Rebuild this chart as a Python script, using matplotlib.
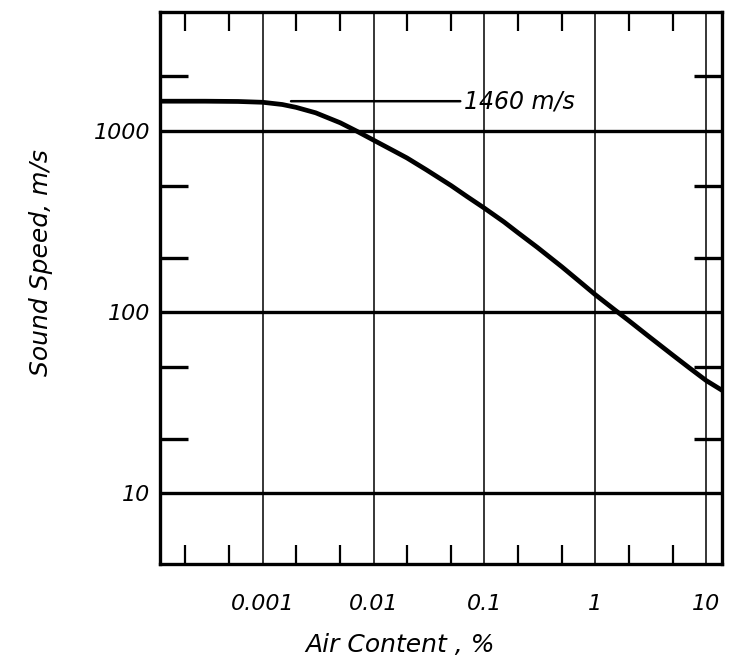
import matplotlib
matplotlib.use("Agg")
import matplotlib.pyplot as plt
from matplotlib.ticker import FixedLocator, NullFormatter

# air content (%) and sound speed (m/s)
air_pct = [1.2e-4, 3e-4, 6e-4, 0.001, 0.0015, 0.002, 0.003, 0.005, 0.007,
           0.01, 0.015, 0.02, 0.03, 0.05, 0.07, 0.1, 0.15, 0.2, 0.3, 0.5,
           0.7, 1, 1.5, 2, 3, 5, 7, 10, 14]
speed = [1460, 1460, 1455, 1440, 1400, 1350, 1260, 1110, 1000,
         890, 780, 710, 610, 500, 434, 375, 315, 275, 228, 178,
         150, 125, 103, 90, 74, 58, 49.5, 42, 37]

x_major = [0.001, 0.01, 0.1, 1, 10]
x_labels = ["0.001", "0.01", "0.1", "1", "10"]
x_minor = [2e-4, 5e-4, 2e-3, 5e-3, 2e-2, 5e-2, 0.2, 0.5, 2, 5]
y_major = [10, 100, 1000]
y_labels = ["10", "100", "1000"]
y_minor = [20, 50, 200, 500, 2000]

font = {"family": "DejaVu Sans", "style": "italic"}

fig = plt.figure(figsize=(7.3, 6.71), dpi=100)
ax = fig.add_axes([0.219, 0.16, 0.770, 0.822])
ax.set_xscale("log")
ax.set_yscale("log")
ax.set_xlim(1.18e-4, 13.9)
ax.set_ylim(4.1, 4530)

for v in x_major:
    ax.axvline(v, color="black", lw=1.1, zorder=1)
for v in y_major:
    ax.axhline(v, color="black", lw=2.4, zorder=1)

ax.plot(air_pct, speed, color="black", lw=3.4, solid_capstyle="round",
        solid_joinstyle="round", zorder=3)

ax.annotate("1460 m/s", xy=(0.0018, 1460), xytext=(0.066, 1460),
            fontsize=17, va="center", ha="left",
            arrowprops={"arrowstyle": "-", "color": "black", "lw": 1.8,
                        "shrinkA": 1, "shrinkB": 0}, **font)

for side in ax.spines.values():
    side.set_linewidth(2.4)

ax.xaxis.set_major_locator(FixedLocator(x_major))
ax.xaxis.set_minor_locator(FixedLocator(x_minor))
ax.xaxis.set_minor_formatter(NullFormatter())
ax.set_xticklabels(x_labels)
ax.yaxis.set_major_locator(FixedLocator(y_major))
ax.yaxis.set_minor_locator(FixedLocator(y_minor))
ax.yaxis.set_minor_formatter(NullFormatter())
ax.set_yticklabels(y_labels)

ax.tick_params(axis="x", which="major", length=0, pad=22, labelsize=16)
ax.tick_params(axis="x", which="minor", direction="in", length=14, width=1.6,
               top=True, bottom=True)
ax.tick_params(axis="y", which="major", length=0, pad=7, labelsize=16)
ax.tick_params(axis="y", which="minor", direction="in", length=20, width=2.4,
               left=True, right=True)
for lab in ax.get_xticklabels() + ax.get_yticklabels():
    lab.set_fontstyle("italic")

ax.set_xlabel("Air Content , %", fontsize=18, **font)
ax.set_ylabel("Sound Speed, m/s", fontsize=18, **font)
ax.xaxis.set_label_coords(0.427, -0.125)
ax.yaxis.set_label_coords(-0.19, 0.545)

fig.savefig("out.png", dpi=100)
